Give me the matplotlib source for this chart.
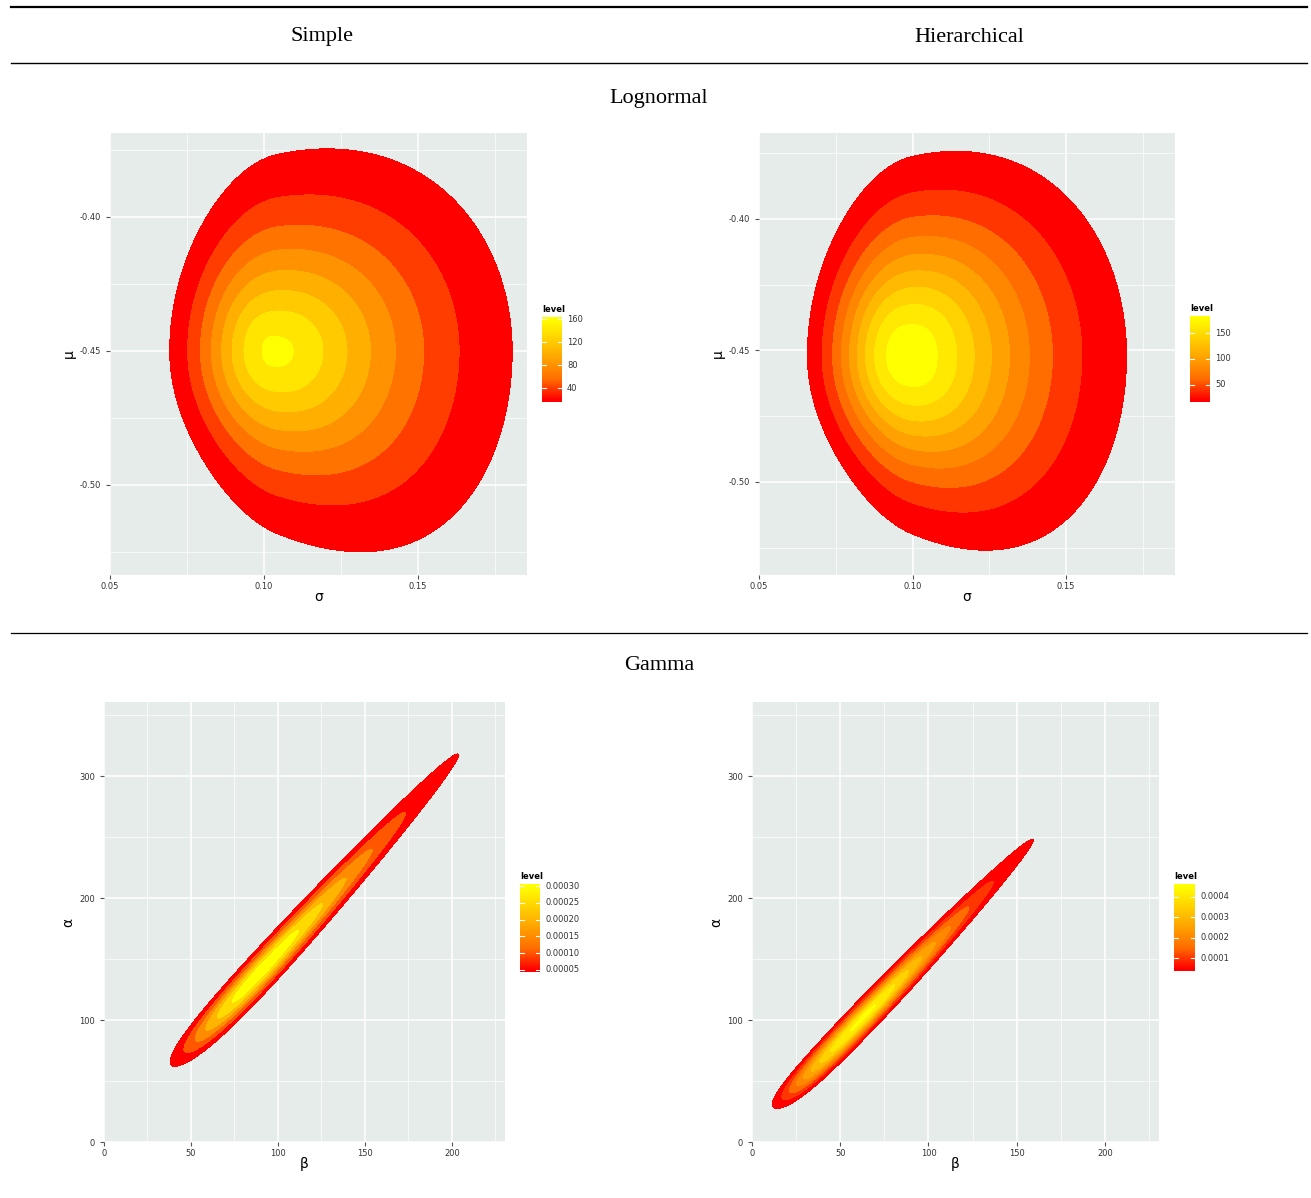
import numpy as np
import matplotlib
matplotlib.use("Agg")
import matplotlib.pyplot as plt
from matplotlib.colors import LinearSegmentedColormap
from matplotlib.ticker import FormatStrFormatter
import matplotlib.transforms as mtransforms

plt.rcParams['axes.unicode_minus'] = False

# ---- data ----
col_titles = ["Simple", "Hierarchical"]
row_titles = ["Lognormal", "Gamma"]

# lognormal posteriors: peak (sigma, mu), peak height,
# half-axis scales (left, right, below, above), their exponents,
# and how fast the mu spread grows with sigma (below, above)
ln_simple_peak = [0.1045, -0.450]
ln_simple_height = 165
ln_simple_scale = [0.025, 0.047, 0.044, 0.046]
ln_simple_power = [2.2, 1.55, 1.7, 1.6]
ln_simple_fan = [0.7, 0.35]
ln_simple_levels = [20, 40, 60, 80, 100, 120, 140, 160]
ln_simple_ticks = [40, 80, 120, 160]

ln_hier_peak = [0.100, -0.452]
ln_hier_height = 195
ln_hier_scale = [0.0243, 0.041, 0.044, 0.048]
ln_hier_power = [2.4, 1.55, 1.9, 1.8]
ln_hier_fan = [0.7, 0.35]
ln_hier_levels = [20, 40, 60, 80, 100, 120, 140, 160, 180]
ln_hier_ticks = [50, 100, 150]

# gamma posteriors: ridge alpha = a + b*beta, centre of log(alpha) along it,
# spread below/above the centre, spread across the ridge, peak height
g_simple_ridge = [-2.3, 1.577]
g_simple_center = 4.95
g_simple_sd = [0.42, 0.415]
g_simple_across = 6.0
g_simple_height = 0.00034
g_simple_levels = [0.00005, 0.00010, 0.00015, 0.00020, 0.00025, 0.00030]
g_simple_ticks = [0.00005, 0.00010, 0.00015, 0.00020, 0.00025, 0.00030]

g_hier_ridge = [5.8, 1.526]
g_hier_center = 4.64
g_hier_sd = [0.63, 0.415]
g_hier_across = 4.8
g_hier_height = 0.00046
g_hier_levels = [0.00005, 0.00010, 0.00015, 0.00020, 0.00025,
                 0.00030, 0.00035, 0.00040, 0.00045]
g_hier_ticks = [0.0001, 0.0002, 0.0003, 0.0004]

W, H = 1311, 1198
fig = plt.figure(figsize=(W / 100, H / 100), dpi=100)

heat = LinearSegmentedColormap.from_list(
    "heat", ["#FF0000", "#FF6C00", "#FFA100", "#FFD100", "#FFFF00"])
panel_bg = "#E6ECE9"


def px_axes(x0, y0, x1, y1):
    return fig.add_axes([x0 / W, 1 - y1 / H, (x1 - x0) / W, (y1 - y0) / H])


def lognormal_density(x, y, peak, height, scale, power, fan):
    dx = x - peak[0]
    dy = y - peak[1]
    grow = x / peak[0]
    sy = np.where(dy < 0, scale[2] * grow ** fan[0], scale[3] * grow ** fan[1])
    u = dx / np.where(dx < 0, scale[0], scale[1])
    v = dy / sy
    px = np.where(dx < 0, power[0], power[1])
    py = np.where(dy < 0, power[2], power[3])
    r2 = u ** 2 + v ** 2
    w = u ** 2 / (r2 + 1e-12)
    p = w * px + (1 - w) * py
    return height * np.exp(-np.sqrt(r2) ** p)


def gamma_density(b, a, ridge, center, sd, across, height):
    d = np.log(np.clip(a, 1e-6, None)) - center
    s = np.where(d < 0, sd[0], sd[1])
    n = (a - ridge[0] - ridge[1] * b) / np.sqrt(1 + ridge[1] ** 2)
    return height * np.exp(-0.5 * (d / s) ** 2 - 0.5 * (n / across) ** 2)


def draw_panel(ax, xlim, ylim, xmaj, xmin, ymaj, ymin, X, Y, Z, levels,
               xlabel, ylabel, xfmt, yfmt):
    ax.set_facecolor(panel_bg)
    ax.set_xlim(xlim)
    ax.set_ylim(ylim)
    ax.set_xticks(xmaj)
    ax.set_xticks(xmin, minor=True)
    ax.set_yticks(ymaj)
    ax.set_yticks(ymin, minor=True)
    ax.xaxis.set_major_formatter(FormatStrFormatter(xfmt))
    ax.yaxis.set_major_formatter(FormatStrFormatter(yfmt))
    ax.grid(which="major", color="white", lw=1.1)
    ax.grid(which="minor", color="white", lw=0.5)
    ax.set_axisbelow(True)
    for sp in ax.spines.values():
        sp.set_visible(False)
    ax.tick_params(which="minor", length=0)
    ax.tick_params(which="major", length=3, width=0.8, color="#555555",
                   labelsize=6, labelcolor="#333333", pad=2)
    ax.tick_params(axis="y", which="major", pad=3.5)
    lo, hi = levels[0], levels[-1]
    cols = heat((np.array(levels) - lo) / (hi - lo))
    top = max(Z.max(), hi) * 1.5
    ax.contourf(X, Y, Z, levels=list(levels) + [top], colors=cols)
    ax.set_xlabel(xlabel, fontsize=10, labelpad=-1)
    ax.set_ylabel(ylabel, fontsize=10, labelpad=3)


def draw_legend(x0, y0, x1, y1, levels, ticks, fmt):
    cax = px_axes(x0, y0, x1, y1)
    lo, hi = levels[0], levels[-1]
    pad = (hi - lo) * 0.5 / 19
    vals = np.linspace(lo - pad, hi + pad, 200)
    img = heat(np.clip((vals - lo) / (hi - lo), 0, 1))[:, None, :3]
    cax.imshow(img, extent=[0, 1, lo - pad, hi + pad], origin="lower",
               aspect="auto", interpolation="bilinear")
    cax.set_xlim(0, 1)
    cax.set_ylim(lo - pad, hi + pad)
    cax.axis("off")
    tr = mtransforms.blended_transform_factory(cax.transAxes, cax.transData)
    for t in ticks:
        cax.plot([0, 0.2], [t, t], color="white", lw=0.8)
        cax.plot([0.8, 1], [t, t], color="white", lw=0.8)
        cax.text(1.25, t, fmt % t, transform=tr, va="center", ha="left",
                 fontsize=6, color="#333333")
    cax.text(0, 1.03, "level", transform=cax.transAxes, fontsize=6,
             fontweight="bold", va="bottom", ha="left")


# ---- table frame ----
frame = fig.add_axes([0, 0, 1, 1])
frame.set_xlim(0, W)
frame.set_ylim(H, 0)
frame.axis("off")
frame.plot([11, 1307], [7, 7], color="black", lw=1.6)
frame.plot([11, 1307], [63, 63], color="black", lw=1.0)
frame.plot([11, 1307], [633, 633], color="black", lw=0.9)
for x, y, s in [(322, 37, col_titles[0]), (969, 37, col_titles[1]),
                (659, 98, row_titles[0]), (659, 666, row_titles[1])]:
    frame.text(x, y, s, fontsize=16, family="Liberation Serif",
               ha="center", va="center")

# ---- lognormal, simple ----
xs = np.linspace(0.05, 0.1854, 400)
ys = np.linspace(-0.5336, -0.3687, 400)
X, Y = np.meshgrid(xs, ys)
Z = lognormal_density(X, Y, ln_simple_peak, ln_simple_height,
                      ln_simple_scale, ln_simple_power, ln_simple_fan)
ax1 = px_axes(110, 133, 527, 575)
draw_panel(ax1, (0.05, 0.1854), (-0.5336, -0.3687),
           [0.05, 0.10, 0.15], [0.075, 0.125, 0.175],
           [-0.50, -0.45, -0.40], [-0.525, -0.475, -0.425, -0.375],
           X, Y, Z, ln_simple_levels, "σ", "μ", "%.2f", "%.2f")
draw_legend(542, 317, 562, 402, ln_simple_levels, ln_simple_ticks, "%d")

# ---- lognormal, hierarchical ----
xs = np.linspace(0.05, 0.1855, 400)
ys = np.linspace(-0.5354, -0.3673, 400)
X, Y = np.meshgrid(xs, ys)
Z = lognormal_density(X, Y, ln_hier_peak, ln_hier_height,
                      ln_hier_scale, ln_hier_power, ln_hier_fan)
ax2 = px_axes(759, 133, 1175, 575)
draw_panel(ax2, (0.05, 0.1855), (-0.5354, -0.3673),
           [0.05, 0.10, 0.15], [0.075, 0.125, 0.175],
           [-0.50, -0.45, -0.40], [-0.525, -0.475, -0.425, -0.375],
           X, Y, Z, ln_hier_levels, "σ", "μ", "%.2f", "%.2f")
draw_legend(1190, 316, 1210, 402, ln_hier_levels, ln_hier_ticks, "%d")

# ---- gamma, simple ----
bs = np.linspace(0, 230.5, 600)
als = np.linspace(0, 360.7, 600)
B, A = np.meshgrid(bs, als)
Z = gamma_density(B, A, g_simple_ridge, g_simple_center, g_simple_sd,
                  g_simple_across, g_simple_height)
ax3 = px_axes(104, 702, 505, 1142)
draw_panel(ax3, (0, 230.5), (0, 360.7),
           [0, 50, 100, 150, 200], [25, 75, 125, 175, 225],
           [0, 100, 200, 300], [50, 150, 250, 350],
           B, A, Z, g_simple_levels, "β", "α", "%d", "%d")
draw_legend(520, 884, 540, 972, g_simple_levels, g_simple_ticks, "%.5f")

# ---- gamma, hierarchical ----
Z = gamma_density(B, A, g_hier_ridge, g_hier_center, g_hier_sd,
                  g_hier_across, g_hier_height)
ax4 = px_axes(752, 702, 1159, 1142)
draw_panel(ax4, (0, 230.6), (0, 360.7),
           [0, 50, 100, 150, 200], [25, 75, 125, 175, 225],
           [0, 100, 200, 300], [50, 150, 250, 350],
           B, A, Z, g_hier_levels, "β", "α", "%d", "%d")
draw_legend(1174, 884, 1195, 971, g_hier_levels, g_hier_ticks, "%.4f")

fig.savefig("out.png", dpi=100)
